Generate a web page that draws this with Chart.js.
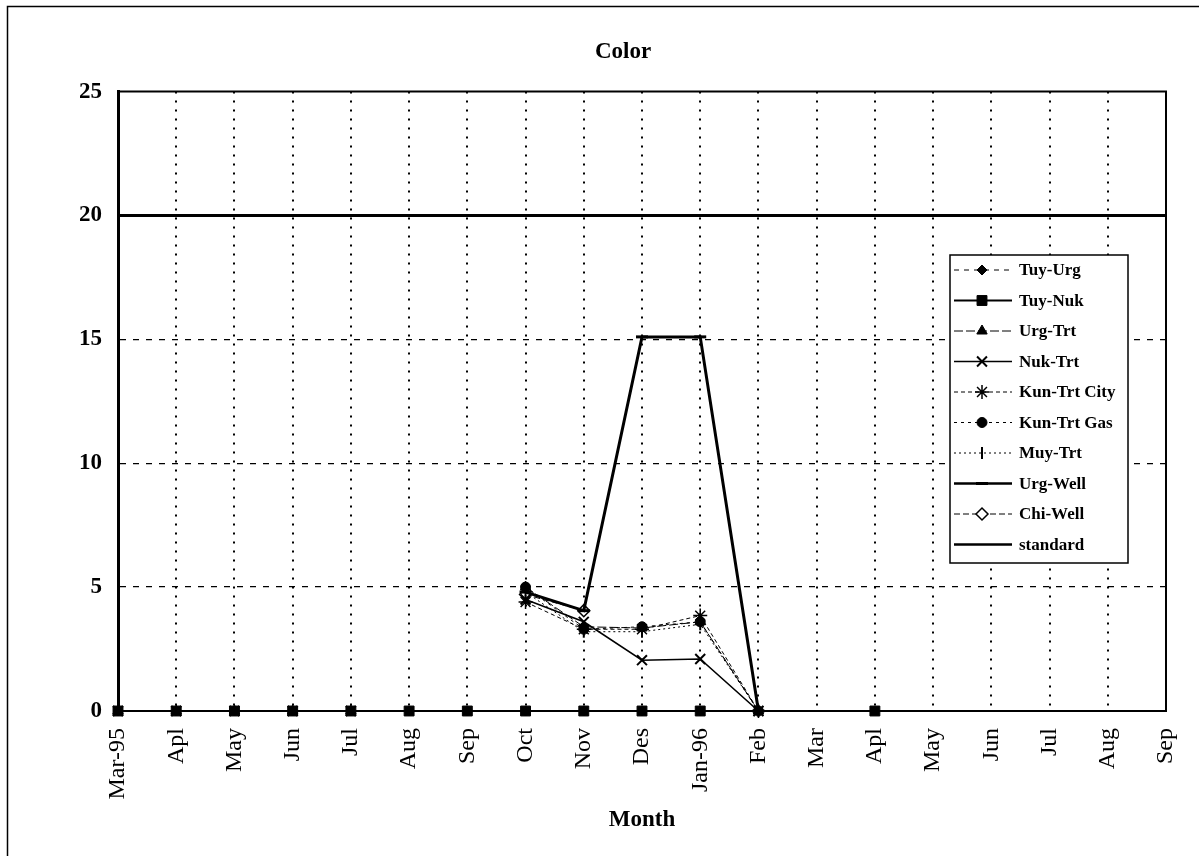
<!DOCTYPE html>
<html>
<head>
<meta charset="utf-8">
<script src="https://cdn.jsdelivr.net/npm/chart.js@4.4.0/dist/chart.umd.min.js"></script>
<style>
  html, body { margin: 0; padding: 0; background: #fff; }
  #wrap { width: 1199px; height: 856px; position: relative; }
</style>
</head>
<body>
<div id="wrap"><canvas id="myChart" width="1199" height="856"></canvas></div>
<script>
const months = ['Mar-95', 'Apl', 'May', 'Jun', 'Jul', 'Aug', 'Sep', 'Oct', 'Nov', 'Des', 'Jan-96',
  'Feb', 'Mar', 'Apl', 'May', 'Jun', 'Jul', 'Aug', 'Sep'];
const yTicks = [0, 5, 10, 15, 20, 25];

const tuyUrg = [0, 0, 0, 0, 0, 0, 0, 0, 0, 0, 0, null, null, null, null, null, null, null, null];
const tuyNuk = [0, 0, 0, 0, 0, 0, 0, 0, 0, 0, 0, null, null, 0, null, null, null, null, null];
const urgTrt = [0, 0, 0, 0, 0, null, null, 5.0, 3.4, 3.35, 3.6, 0, null, null, null, null, null, null, null];
const nukTrt = [0, 0, 0, 0, 0, null, null, 4.5, 3.6, 2.05, 2.1, 0, null, null, null, null, null, null, null];
const kunTrtCity = [null, null, null, null, null, null, null, 4.4, 3.3, 3.3, 3.85, 0, null, null, null, null, null, null, null];
const kunTrtGas = [null, null, null, null, null, null, null, 5.0, 3.3, 3.4, 3.6, 0, null, null, null, null, null, null, null];
const muyTrt = [null, null, null, null, null, null, null, 4.8, 3.2, 3.2, 3.5, 0, null, null, null, null, null, null, null];
const urgWell = [null, null, null, null, null, null, null, 4.8, 4.05, 15.1, 15.1, 0, null, null, null, null, null, null, null];
const chiWell = [null, null, null, null, null, null, null, 4.7, 4.05, null, null, null, null, null, null, null, null, null, null];
const standard = [20, 20, 20, 20, 20, 20, 20, 20, 20, 20, 20, 20, 20, 20, 20, 20, 20, 20, 20];

const serif = '"Liberation Serif", "Times New Roman", serif';

const series = (label, data, opts) => Object.assign({
  label: label,
  data: data,
  borderColor: '#000',
  backgroundColor: '#000',
  pointBackgroundColor: '#000',
  pointBorderColor: '#000',
  borderWidth: 1,
  pointRadius: 5,
  pointBorderWidth: 1,
  tension: 0,
  clip: false
}, opts);

const datasets = [
  series('Tuy-Urg', tuyUrg, { pointStyle: 'rectRot', pointRadius: 5, borderDash: [5, 5] }),
  series('Tuy-Nuk', tuyNuk, { pointStyle: 'rect', pointRadius: 7, borderWidth: 2 }),
  series('Urg-Trt', urgTrt, { pointStyle: 'triangle', pointRadius: 6, borderDash: [9, 3] }),
  series('Nuk-Trt', nukTrt, { pointStyle: 'crossRot', pointRadius: 7, pointBorderWidth: 2, borderWidth: 1.6 }),
  series('Kun-Trt City', kunTrtCity, { pointStyle: 'star', pointRadius: 7, pointBorderWidth: 1.5, borderDash: [4, 3] }),
  series('Kun-Trt Gas', kunTrtGas, { pointStyle: 'circle', pointRadius: 5, borderDash: [3, 4] }),
  series('Muy-Trt', muyTrt, { pointStyle: 'line', pointRotation: 90, pointRadius: 6, pointBorderWidth: 2, borderDash: [2, 3] }),
  series('Urg-Well', urgWell, { pointStyle: 'line', pointRadius: 6, pointBorderWidth: 3, borderWidth: 3 }),
  series('Chi-Well', chiWell, { pointStyle: 'rectRot', pointRadius: 6, pointBackgroundColor: '#fff', pointBorderWidth: 1.5, borderDash: [6, 3] }),
  series('standard', standard, { pointRadius: 0, borderWidth: 3 })
];

// frame, plot border and the boxed legend inside the plot
const decorations = {
  id: 'decorations',
  beforeDraw(chart) {
    const ctx = chart.ctx;
    ctx.save();
    ctx.fillStyle = '#fff';
    ctx.fillRect(0, 0, chart.width, chart.height);
    ctx.strokeStyle = '#000';
    ctx.lineWidth = 1.5;
    ctx.strokeRect(7.5, 6.5, chart.width - 5, chart.height + 10);
    ctx.restore();
  },
  afterDraw(chart) {
    const ctx = chart.ctx;
    const a = chart.chartArea;
    ctx.save();
    ctx.strokeStyle = '#000';
    ctx.lineWidth = 2;
    ctx.beginPath();
    ctx.moveTo(a.left, a.top);
    ctx.lineTo(a.right, a.top);
    ctx.lineTo(a.right, a.bottom);
    ctx.stroke();

    // legend
    const bx = 950, by = 255, bw = 178, bh = 308;
    ctx.fillStyle = '#fff';
    ctx.fillRect(bx, by, bw, bh);
    ctx.lineWidth = 1.5;
    ctx.strokeRect(bx, by, bw, bh);
    ctx.font = 'bold 17px ' + serif;
    ctx.textBaseline = 'middle';
    chart.data.datasets.forEach((ds, i) => {
      const y = 270 + i * 30.5;
      ctx.save();
      ctx.strokeStyle = '#000';
      ctx.lineWidth = Math.min(ds.borderWidth, 2.5);
      ctx.setLineDash(ds.borderDash || []);
      ctx.beginPath();
      ctx.moveTo(954, y);
      ctx.lineTo(1012, y);
      ctx.stroke();
      ctx.restore();
      if (ds.pointRadius > 0) {
        ctx.save();
        ctx.fillStyle = ds.pointBackgroundColor;
        ctx.strokeStyle = '#000';
        ctx.lineWidth = ds.pointBorderWidth;
        Chart.helpers.drawPoint(ctx, {
          pointStyle: ds.pointStyle,
          radius: ds.pointRadius,
          rotation: ds.pointRotation || 0,
          borderWidth: ds.pointBorderWidth
        }, 982, y);
        ctx.restore();
      }
      ctx.fillStyle = '#000';
      ctx.fillText(ds.label, 1019, y + 1);
    });
    ctx.restore();
  }
};

const ctx = document.getElementById('myChart').getContext('2d');
const myChart = new Chart(ctx, {
  type: 'line',
  data: { labels: months, datasets: datasets },
  options: {
    responsive: false,
    animation: false,
    events: [],
    layout: { padding: { left: 80, right: 33, top: 0, bottom: 0 } },
    plugins: {
      legend: { display: false },
      tooltip: { enabled: false },
      title: {
        display: true,
        text: 'Color',
        color: '#000',
        font: { family: serif, size: 23, weight: 'bold' },
        padding: { top: 38, bottom: 26 }
      }
    },
    scales: {
      x: {
        type: 'category',
        offset: false,
        grid: {
          color: (c) => (c.index === 0 || c.index === months.length - 1) ? 'rgba(0,0,0,0)' : '#000',
          lineWidth: 2,
          drawTicks: false
        },
        border: { display: true, color: '#000', width: 2, dash: [2, 7] },
        ticks: {
          autoSkip: false,
          maxRotation: 90,
          minRotation: 90,
          padding: 17,
          color: '#000',
          font: { family: serif, size: 24 }
        },
        title: {
          display: true,
          text: 'Month',
          color: '#000',
          font: { family: serif, size: 23, weight: 'bold' },
          padding: { top: 0, bottom: 22 }
        },
        afterFit(scale) {
          scale.height = 145;
          scale.paddingLeft = 0;
          scale.paddingRight = 0;
        }
      },
      y: {
        min: 0,
        max: 25,
        afterBuildTicks(scale) {
          scale.ticks = yTicks.map(v => ({ value: v }));
        },
        grid: {
          color: (c) => [5, 10, 15].includes(c.tick && c.tick.value) ? '#000' : 'rgba(0,0,0,0)',
          lineWidth: 1.3,
          drawTicks: false
        },
        border: { display: true, color: '#000', width: 3, dash: [6, 7] },
        ticks: {
          padding: 16,
          color: '#000',
          font: { family: serif, size: 23, weight: 'bold' }
        },
        afterFit(scale) {
          scale.width = 38;
          scale.paddingTop = 0;
          scale.paddingBottom = 0;
        }
      }
    }
  },
  plugins: [decorations]
});
</script>
</body>
</html>
